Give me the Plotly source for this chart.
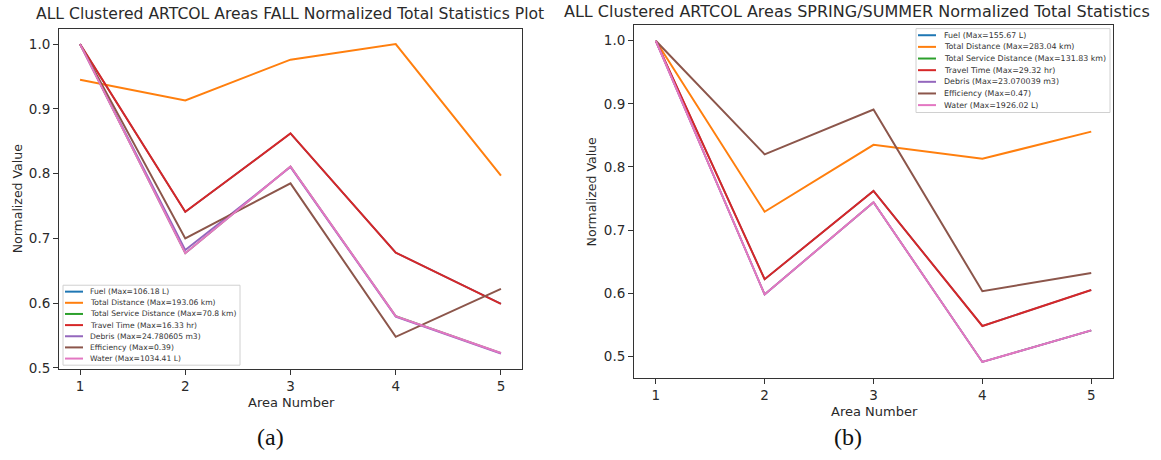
import plotly.graph_objects as go

W, H = 1161, 460

# Area numbers on the x axis
areas = [1, 2, 3, 4, 5]

# Series names, colours (tab10), and the units shown in the legend
series_names = ["Fuel", "Total Distance", "Total Service Distance", "Travel Time",
                "Debris", "Efficiency", "Water"]
series_colors = ["#1f77b4", "#ff7f0e", "#2ca02c", "#d62728", "#9467bd", "#8c564b", "#e377c2"]
series_units = ["L", "km", "km", "hr", "m3", "", "L"]

# FALL: normalized totals per area
fall_fuel = [1.0, 0.741, 0.862, 0.678, 0.599]
fall_total_distance = [0.945, 0.913, 0.976, 1.0, 0.797]
fall_service_distance = [1.0, 0.677, 0.811, 0.580, 0.523]
fall_travel_time = [1.0, 0.741, 0.862, 0.678, 0.599]
fall_debris = [1.0, 0.682, 0.810, 0.579, 0.522]
fall_efficiency = [1.0, 0.700, 0.785, 0.548, 0.622]
fall_water = [1.0, 0.677, 0.811, 0.580, 0.523]
fall_max = ["106.18", "193.06", "70.8", "16.33", "24.780605", "0.39", "1034.41"]

# SPRING/SUMMER: normalized totals per area
spring_fuel = [1.0, 0.622, 0.762, 0.548, 0.605]
spring_total_distance = [1.0, 0.729, 0.835, 0.813, 0.856]
spring_service_distance = [1.0, 0.598, 0.744, 0.491, 0.541]
spring_travel_time = [1.0, 0.622, 0.762, 0.548, 0.605]
spring_debris = [1.0, 0.598, 0.744, 0.491, 0.541]
spring_efficiency = [1.0, 0.820, 0.891, 0.603, 0.632]
spring_water = [1.0, 0.598, 0.744, 0.491, 0.541]
spring_max = ["155.67", "283.04", "131.83", "29.32", "23.070039", "0.47", "1926.02"]

fall_series = [fall_fuel, fall_total_distance, fall_service_distance, fall_travel_time,
               fall_debris, fall_efficiency, fall_water]
spring_series = [spring_fuel, spring_total_distance, spring_service_distance,
                 spring_travel_time, spring_debris, spring_efficiency, spring_water]

# Series drawn first and overdrawn by identical later ones get a slightly thinner stroke
series_widths = [1.6, 2, 1.6, 2, 1.8, 2, 2]

TICK_FONT = dict(family="DejaVu Sans", size=13.5, color="#2a2a2a")


def px(x):
    return x / W


def py(y):
    return 1 - y / H


def auto_range(values_list, pad=0.05):
    lo = min(min(v) for v in values_list)
    hi = max(max(v) for v in values_list)
    span = hi - lo
    return [lo - pad * span, hi + pad * span]


fig = go.Figure()

panels = [
    dict(series=fall_series, maxes=fall_max, xa="x", ya="y", xaxis="xaxis", yaxis="yaxis",
         box=(59, 29, 522, 374)),
    dict(series=spring_series, maxes=spring_max, xa="x2", ya="y2", xaxis="xaxis2", yaxis="yaxis2",
         box=(634, 25, 1113, 383)),
]

for p in panels:
    for name, color, lw, vals in zip(series_names, series_colors, series_widths, p["series"]):
        fig.add_trace(go.Scatter(
            x=areas, y=vals, mode="lines", name=name,
            line=dict(color=color, width=lw), xaxis=p["xa"], yaxis=p["ya"],
            showlegend=False, hoverinfo="skip",
        ))
    x0, y0, x1, y1 = p["box"]
    axis_common = dict(showline=True, mirror=True, linecolor="#333", linewidth=1,
                       ticks="outside", ticklen=5, tickcolor="#333", showgrid=False,
                       zeroline=False, tickfont=TICK_FONT)
    fig.layout[p["xaxis"]] = dict(domain=[px(x0), px(x1)], range=[0.8, 5.2],
                                  tickvals=areas, anchor=p["ya"], **axis_common)
    fig.layout[p["yaxis"]] = dict(domain=[py(y1), py(y0)], range=auto_range(p["series"]),
                                  tickvals=[0.5, 0.6, 0.7, 0.8, 0.9, 1.0], tickformat=".1f",
                                  anchor=p["xa"], **axis_common)

shapes = []
annotations = []


def add_text(text, x, y, size, family="DejaVu Sans", xanchor="center", angle=0, color="#2a2a2a"):
    annotations.append(dict(text=text, x=px(x), y=py(y), xref="paper", yref="paper",
                            showarrow=False, xanchor=xanchor, yanchor="middle",
                            textangle=angle, font=dict(family=family, size=size, color=color)))


def add_legend(maxes, box, row0, step, line_x, text_x, size):
    bx0, by0, bx1, by1 = box
    shapes.append(dict(type="rect", xref="paper", yref="paper",
                       x0=px(bx0), x1=px(bx1), y0=py(by1), y1=py(by0),
                       line=dict(color="#d0d0d0", width=1), fillcolor="rgba(255,255,255,0.9)"))
    for i, (name, color, unit, mx) in enumerate(zip(series_names, series_colors, series_units, maxes)):
        yy = row0 + i * step
        shapes.append(dict(type="line", xref="paper", yref="paper",
                           x0=px(line_x[0]), x1=px(line_x[1]), y0=py(yy), y1=py(yy),
                           line=dict(color=color, width=2)))
        label = f"{name} (Max={mx} {unit})" if unit else f"{name} (Max={mx})"
        add_text(label, text_x, yy, size, xanchor="left", color="#333")


# Titles
add_text("ALL Clustered ARTCOL Areas FALL Normalized Total Statistics Plot", 290, 14, 15.6)
add_text("ALL Clustered ARTCOL Areas SPRING/SUMMER Normalized Total Statistics", 562, 12, 16,
         xanchor="left")

# Axis titles
add_text("Normalized Value", 17, 202, 12.5, angle=-90)
add_text("Area Number", 291, 408, 13)
add_text("Normalized Value", 591, 195, 12.5, angle=-90)
add_text("Area Number", 874, 417, 13)

# Panel captions
add_text("(a)", 270, 443, 24, family="Liberation Serif", color="#111")
add_text("(b)", 848, 443, 24, family="Liberation Serif", color="#111")

# Legends
add_legend(fall_max, (63, 289, 240, 370), 295.5, 11.3, (65, 83), 88, 7.6)
add_legend(spring_max, (916, 29, 1110, 114), 35.7, 11.8, (918, 936), 942, 7.9)

fig.update_layout(
    width=W, height=H, margin=dict(l=0, r=0, t=0, b=0),
    paper_bgcolor="white", plot_bgcolor="white",
    showlegend=False, shapes=shapes, annotations=annotations,
)

fig.write_html("out.html")
